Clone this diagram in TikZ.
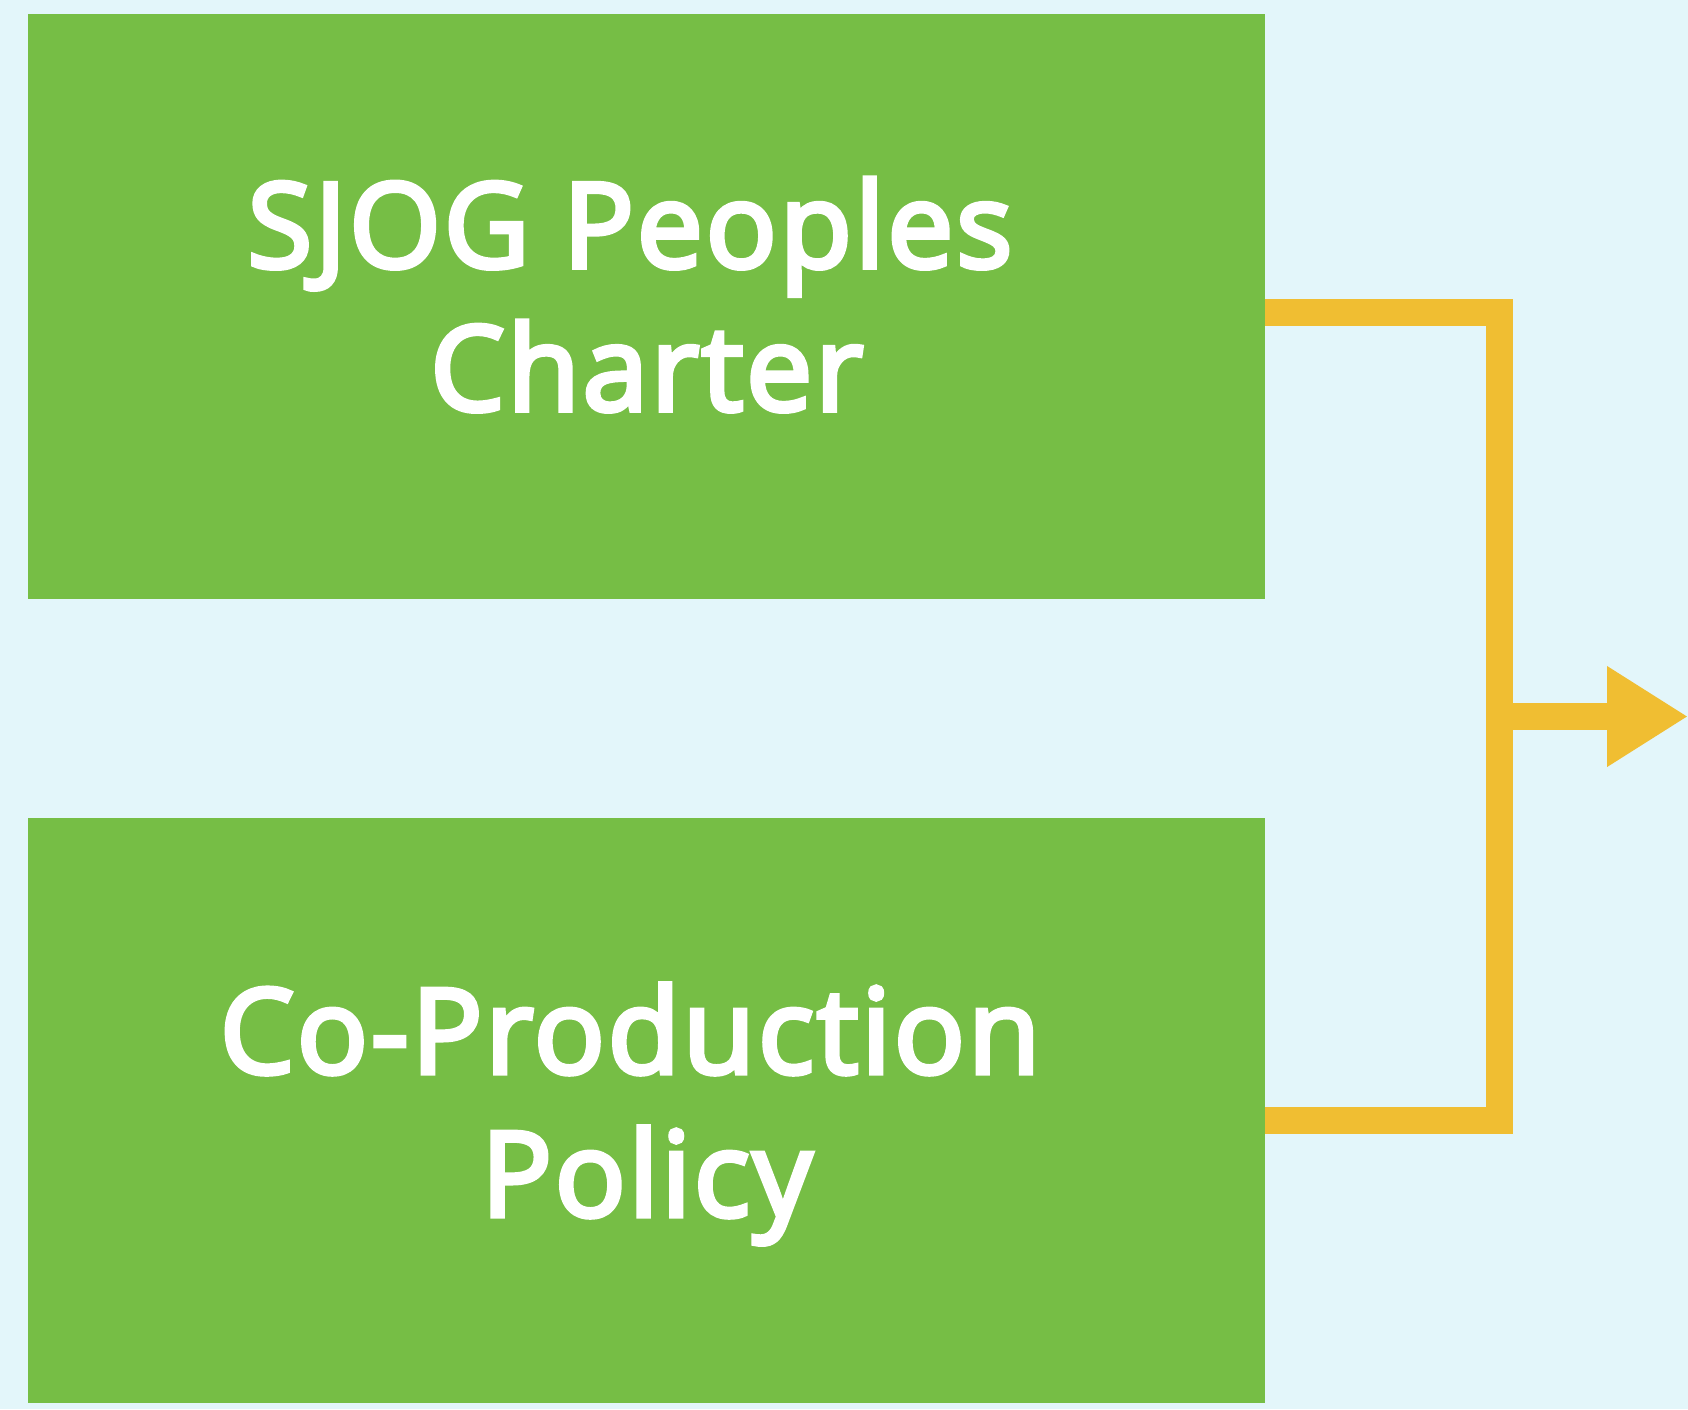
\documentclass[tikz,border=0pt]{standalone}
\usepackage{fontspec}
\setmainfont{Open Sans}
\newfontfamily\boxfont{Open Sans}[FakeBold=4,LetterSpace=2.3]
\usetikzlibrary{positioning,arrows.meta}
\definecolor{bgcyan}{RGB}{227,246,250}
\definecolor{boxgreen}{RGB}{118,190,69}
\definecolor{linkyellow}{RGB}{240,190,50}
\tikzset{
  policybox/.style={fill=boxgreen, minimum width=1237pt, minimum height=585pt, inner sep=0pt},
  boxtext/.style={text=white, inner sep=0pt, align=center, font=\fontsize{118}{143}\selectfont\boxfont},
  link/.style={draw=linkyellow, line width=27pt}
}

\begin{document}
\begin{tikzpicture}[x=1pt,y=1pt]
%canvas
\fill[bgcyan] (0,0) rectangle (1688,-1409);
\useasboundingbox (0,0) rectangle (1688,-1409);
%the two boxes
\node[policybox, anchor=north west] (charter) at (28,-14) {};
\node[policybox, below=218pt of charter] (coprod) {};
\node[boxtext] (charter-text) at ([yshift=12pt]charter.center) {SJOG Peoples\hphantom{ }\\Charter};
\node[boxtext] (coprod-text) at ([yshift=-4pt]coprod.center) {Co-Production\hphantom{ }\\Policy};
%joining line
\coordinate (jtop) at (1499,-312.5);
\coordinate (jbot) at (1499,-1120);
\coordinate (jmid) at (1499,-716.5);
\coordinate (out) at (1688,-716.5);
\draw[link] (charter.east |- jtop) -- (jtop) -- (jbot) -- (coprod.east |- jbot);
\draw[link, -{Triangle[length=81pt,width=95pt]}] (jmid) -- (out);
\end{tikzpicture}
\end{document}
